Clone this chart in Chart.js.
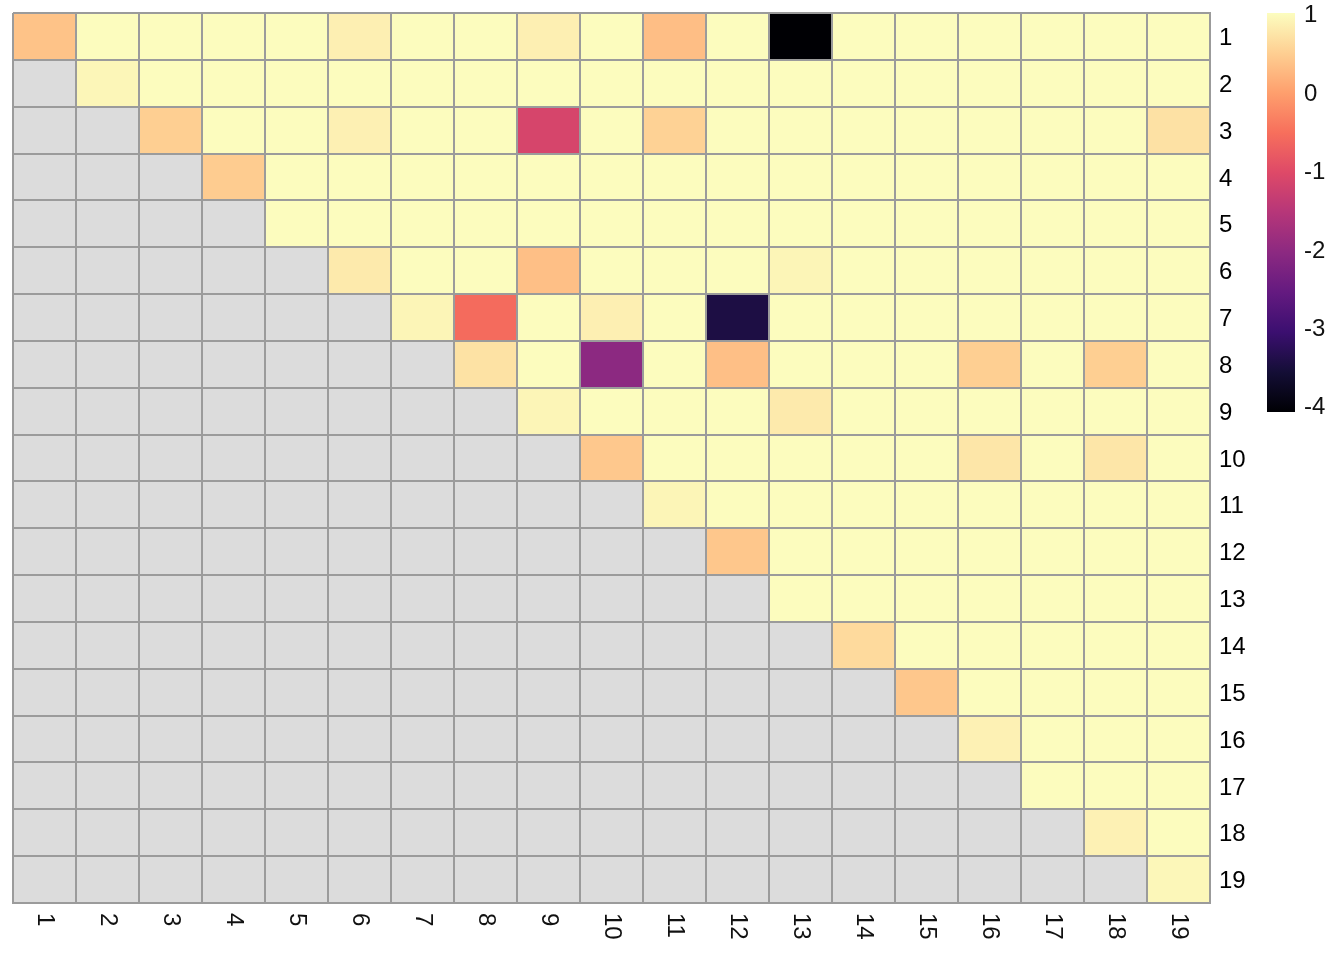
<!DOCTYPE html>
<html>
<head>
<meta charset="utf-8">
<script src="https://cdn.jsdelivr.net/npm/chart.js@4/dist/chart.umd.min.js"></script>
<style>
  html, body { margin: 0; padding: 0; background: #ffffff; }
  canvas { display: block; }
</style>
</head>
<body>
<canvas id="heat" width="1344" height="960"></canvas>
<script>
// labels for columns (bottom) and rows (right)
var colLabels = ["1","2","3","4","5","6","7","8","9","10","11","12","13","14","15","16","17","18","19"];
var rowLabels = ["1","2","3","4","5","6","7","8","9","10","11","12","13","14","15","16","17","18","19"];
var legendTicks = [1, 0, -1, -2, -3, -4];

// colour scale limits
var cmin = -4.08;
var cmax = 1.01;

// cell values, null = empty (grey) cell
var N = null;
var values = [
  [0.37, 1, 1, 1, 1, 0.86, 1, 1, 0.86, 1, 0.32, 1, -4.08, 1, 1, 1, 1, 1, 1],
  [N, 0.93, 1, 1, 1, 1, 1, 1, 1, 1, 1, 1, 1, 1, 1, 1, 1, 1, 1],
  [N, N, 0.50, 1, 1, 0.87, 1, 1, -1.13, 1, 0.53, 1, 1, 1, 1, 1, 1, 1, 0.70],
  [N, N, N, 0.47, 1, 1, 1, 1, 1, 1, 1, 1, 1, 1, 1, 1, 1, 1, 1],
  [N, N, N, N, 1, 1, 1, 1, 1, 1, 1, 1, 1, 1, 1, 1, 1, 1, 1],
  [N, N, N, N, N, 0.80, 1, 1, 0.33, 1, 1, 1, 0.92, 1, 1, 1, 1, 1, 1],
  [N, N, N, N, N, N, 0.92, -0.57, 1, 0.86, 1, -3.45, 1, 1, 1, 1, 1, 1, 1],
  [N, N, N, N, N, N, N, 0.71, 1, -2.04, 1, 0.33, 1, 1, 1, 0.50, 1, 0.50, 1],
  [N, N, N, N, N, N, N, N, 0.92, 1, 1, 1, 0.80, 1, 1, 1, 1, 1, 1],
  [N, N, N, N, N, N, N, N, N, 0.43, 1, 1, 1, 1, 1, 0.75, 1, 0.75, 1],
  [N, N, N, N, N, N, N, N, N, N, 0.92, 1, 1, 1, 1, 1, 1, 1, 1],
  [N, N, N, N, N, N, N, N, N, N, N, 0.42, 1, 1, 1, 1, 1, 1, 1],
  [N, N, N, N, N, N, N, N, N, N, N, N, 1, 1, 1, 1, 1, 1, 1],
  [N, N, N, N, N, N, N, N, N, N, N, N, N, 0.62, 1, 1, 1, 1, 1],
  [N, N, N, N, N, N, N, N, N, N, N, N, N, N, 0.42, 1, 1, 1, 1],
  [N, N, N, N, N, N, N, N, N, N, N, N, N, N, N, 0.88, 1, 1, 1],
  [N, N, N, N, N, N, N, N, N, N, N, N, N, N, N, N, 1, 1, 1],
  [N, N, N, N, N, N, N, N, N, N, N, N, N, N, N, N, N, 0.88, 1],
  [N, N, N, N, N, N, N, N, N, N, N, N, N, N, N, N, N, N, 0.94]
];

var naColor = "#dcdcdc";
var lineColor = "#9b9b9b";
var fontFamily = '"Liberation Sans", Arial, Helvetica, sans-serif';

// magma palette stops
var magmaStops = ["#000004","#140e36","#3b0f70","#641a80","#8c2981","#b63679","#de4968","#f76f5c","#fe9f6d","#fecf92","#fcfdbf"];

function hexToRgb(h) {
    return [parseInt(h.substr(1, 2), 16), parseInt(h.substr(3, 2), 16), parseInt(h.substr(5, 2), 16)];
}
var magmaRgb = magmaStops.map(hexToRgb);

function magma(v) {
    var t = (v - cmin) / (cmax - cmin);
    t = Math.max(0, Math.min(1, t));
    var pos = t * (magmaRgb.length - 1);
    var i = Math.min(Math.floor(pos), magmaRgb.length - 2);
    var f = pos - i;
    var a = magmaRgb[i], b = magmaRgb[i + 1];
    var c = [0, 1, 2].map(function(k) { return Math.round(a[k] + (b[k] - a[k]) * f); });
    return "rgb(" + c[0] + "," + c[1] + "," + c[2] + ")";
}

// one floating-bar dataset per row
var datasets = rowLabels.map(function(rl, r) {
    var y = Number(rl);
    return {
        label: "row " + rl,
        data: colLabels.map(function() { return [y - 0.5, y + 0.5]; }),
        backgroundColor: values[r].map(function(v) { return v === null ? naColor : magma(v); }),
        borderWidth: 0,
        grouped: false,
        barPercentage: 1,
        categoryPercentage: 1
    };
});

// rotated column labels + colour bar legend
var extrasPlugin = {
    id: "extras",
    afterDraw: function(chart) {
        var ctx = chart.ctx;
        var xs = chart.scales.x;
        ctx.save();
        ctx.font = "24px " + fontFamily;
        ctx.fillStyle = "#111111";
        colLabels.forEach(function(l, i) {
            var px = xs.getPixelForValue(i);
            ctx.save();
            ctx.translate(px, chart.chartArea.bottom + 10);
            ctx.rotate(Math.PI / 2);
            ctx.textAlign = "left";
            ctx.textBaseline = "middle";
            ctx.fillText(l, 0, 0);
            ctx.restore();
        });

        // colour bar
        var barX = 1267, barW = 28, barTop = 13, barBottom = 412;
        function yOf(v) {
            return barTop + (cmax - v) / (cmax - cmin) * (barBottom - barTop);
        }
        var grad = ctx.createLinearGradient(0, barTop, 0, barBottom);
        magmaStops.forEach(function(c, i) {
            grad.addColorStop(1 - i / (magmaStops.length - 1), c);
        });
        ctx.fillStyle = grad;
        ctx.fillRect(barX, barTop, barW, barBottom - barTop);

        ctx.fillStyle = "#111111";
        ctx.textAlign = "left";
        ctx.textBaseline = "middle";
        legendTicks.forEach(function(v) {
            ctx.fillText(String(v), barX + barW + 9, yOf(v) + 2);
        });
        ctx.restore();
    }
};

var ctx = document.getElementById("heat").getContext("2d");
var heat = new Chart(ctx, {
    type: "bar",
    data: {
        labels: colLabels,
        datasets: datasets
    },
    options: {
        responsive: false,
        animation: false,
        layout: {
            padding: { left: 13, top: 13, right: 84, bottom: 0 }
        },
        plugins: {
            legend: { display: false },
            tooltip: { enabled: false }
        },
        scales: {
            x: {
                type: "category",
                offset: true,
                grid: { offset: true, color: lineColor, lineWidth: 2, drawTicks: false, z: 1 },
                border: { display: true, color: lineColor, width: 2, z: 2 },
                ticks: { display: false },
                afterFit: function(scale) {
                    scale.height = 57;
                    scale.paddingLeft = 0;
                    scale.paddingRight = 0;
                }
            },
            y: {
                type: "linear",
                position: "right",
                reverse: true,
                min: 0.5,
                max: 19.5,
                afterBuildTicks: function(scale) {
                    scale.ticks = rowLabels.map(function(l) { return { value: Number(l) }; });
                },
                grid: { offset: true, color: lineColor, lineWidth: 2, drawTicks: false, z: 1 },
                border: { display: true, color: lineColor, width: 2, z: 2 },
                ticks: {
                    padding: 9,
                    labelOffset: 2,
                    color: "#000000",
                    font: { size: 24, family: fontFamily },
                    callback: function(v) { return String(v); }
                },
                afterFit: function(scale) {
                    scale.width = 50;
                    scale.paddingTop = 0;
                    scale.paddingBottom = 0;
                }
            }
        }
    },
    plugins: [extrasPlugin]
});
</script>
</body>
</html>
